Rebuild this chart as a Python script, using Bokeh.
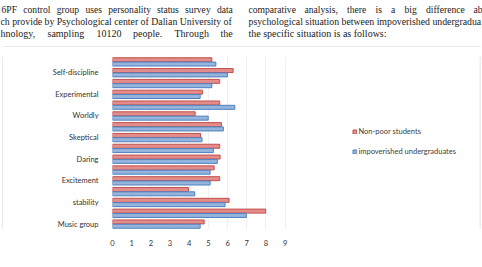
from bokeh.plotting import figure
from bokeh.layouts import column, row
from bokeh.models import Range1d, FixedTicker, Legend, LegendItem, ColumnDataSource
from bokeh.core.properties import value
from bokeh.embed import file_html
from bokeh.resources import INLINE

# 16PF factors, bottom to top; only every other factor carries a label
factor_labels = ["Music group", "", "stability", "", "Excitement", "", "Daring", "",
                 "Skeptical", "", "Worldly", "", "Experimental", "", "Self-discipline", ""]
non_poor = [4.78, 7.99, 6.08, 3.96, 5.59, 5.30, 5.61, 5.59,
            4.59, 5.68, 4.31, 5.59, 4.69, 5.59, 6.29, 5.18]
impoverished = [4.57, 6.98, 5.87, 4.29, 5.09, 5.09, 5.47, 5.26,
                4.67, 5.78, 4.99, 6.38, 4.57, 5.18, 6.00, 5.39]
x_ticks = [0, 1, 2, 3, 4, 5, 6, 7, 8, 9]

W, H = 482, 267
BORDER = "#D9D9D9"


def blank(w, h):
    """A bare figure whose frame fills the canvas, in pixel coordinates (y down)."""
    f = figure(width=w, height=h, output_backend="svg", toolbar_location=None,
               x_range=Range1d(0, w), y_range=Range1d(h, 0),
               x_axis_location=None, y_axis_location=None,
               min_border=0, min_border_left=0, min_border_right=0,
               min_border_top=0, min_border_bottom=0)
    f.outline_line_color = None
    f.grid.visible = False
    f.background_fill_color = "white"
    f.border_fill_color = "white"
    return f


# ---- paragraph text above the chart (justified lines set word by word),
#      plus the top edge of the chart box
text_h = 47
txt = blank(W, text_h)
paragraph = [
    # (font size, line centre, [(word, left x), ...])
    ("9.6px", 9, [("6PF", 1), ("control", 22.8), ("group", 56.2), ("uses", 84.9),
                  ("personality", 107.8), ("status", 156.5), ("survey", 184.6), ("data", 216.4),
                  ("comparative", 248), ("analysis,", 304), ("there", 346.5), ("is", 375),
                  ("a", 390.5), ("big", 404), ("difference", 425.5), ("ab", 473)]),
    ("9.8px", 20.5, [("ch provide by Psychological center of Dalian University of", 0),
                     ("psychological situation between impoverished undergradua", 248)]),
    ("10px", 32.5, [("hnology,", 0), ("sampling", 47), ("10120", 96), ("people.", 132.5),
                    ("Through", 174), ("the", 220),
                    ("the specific situation is as follows:", 248)]),
]
for size, ly, words in paragraph:
    txt.text(x=[w[1] for w in words], y=[ly] * len(words), text=[w[0] for w in words],
             text_font=value("Liberation Serif"), text_font_size=size,
             text_color="#222222", text_baseline="middle", text_align="left")
txt.segment(x0=[2], y0=[46.5], x1=[480], y1=[46.5], line_color=BORDER, line_width=1)

# ---- the chart itself
chart_w, chart_h = 476, 215
left, right, top, bottom = 109, 0, 9, 33
unit = (284.3 - 111.7) / 9.0
x_end = (chart_w - left - right) / unit

idx = list(range(len(factor_labels)))
src = ColumnDataSource(dict(
    y_red=[i + 0.2 for i in idx],
    y_blue=[i - 0.2 for i in idx],
    non_poor=non_poor,
    impoverished=impoverished,
))

p = figure(width=chart_w, height=chart_h, output_backend="svg", toolbar_location=None,
           x_range=Range1d(0, x_end), y_range=Range1d(-0.5, len(idx) - 0.5),
           min_border_left=left, min_border_right=right,
           min_border_top=top, min_border_bottom=bottom)
p.outline_line_color = None
p.background_fill_color = "white"
p.border_fill_color = "white"

r_red = p.hbar(y="y_red", right="non_poor", left=0, height=0.37, source=src,
               fill_color="#E48C8A", line_color="#C0504D", line_width=1)
r_blue = p.hbar(y="y_blue", right="impoverished", left=0, height=0.37, source=src,
                fill_color="#94B4DD", line_color="#4F81BD", line_width=1)

p.xaxis.ticker = FixedTicker(ticks=x_ticks)
p.xaxis.axis_line_color = None
p.xaxis.major_tick_line_color = None
p.xaxis.minor_tick_line_color = None
p.xaxis.major_label_text_font = "Lato"
p.xaxis.major_label_text_font_size = "7.5px"
p.xaxis.major_label_text_color = "#333333"
p.xaxis.major_label_standoff = 4

shown = [i for i, lab in enumerate(factor_labels) if lab]
p.yaxis.ticker = FixedTicker(ticks=shown)
p.yaxis.major_label_overrides = {i: factor_labels[i] for i in shown}
p.yaxis.axis_line_color = None
p.yaxis.major_tick_line_color = None
p.yaxis.minor_tick_line_color = None
p.yaxis.major_label_text_font = "Lato"
p.yaxis.major_label_text_font_size = "7.5px"
p.yaxis.major_label_text_color = "#333333"
p.yaxis.major_label_standoff = 8

p.xgrid.grid_line_color = "#F0F0F0"
p.ygrid.grid_line_color = None

legend = Legend(items=[LegendItem(label="Non-poor students", renderers=[r_red]),
                       LegendItem(label="impoverished undergraduates", renderers=[r_blue])],
                location=(239.5, 72.8), padding=0, margin=0, spacing=11,
                glyph_width=5, glyph_height=5, label_height=9, label_standoff=2,
                border_line_color=None, background_fill_alpha=0,
                label_text_font="Lato", label_text_font_size="7.5px",
                label_text_color="#404040")
p.add_layout(legend)

# ---- side edges and bottom edge of the chart box
side_l = blank(3, chart_h)
side_l.segment(x0=[2.5], y0=[0], x1=[2.5], y1=[chart_h], line_color=BORDER, line_width=1)
side_r = blank(3, chart_h)
side_r.segment(x0=[0.5], y0=[0], x1=[0.5], y1=[chart_h], line_color=BORDER, line_width=1)

foot_h = H - text_h - chart_h
foot = blank(W, foot_h)
foot.segment(x0=[2], y0=[0.5], x1=[480], y1=[0.5], line_color=BORDER, line_width=1)

page = column(txt, row(side_l, p, side_r, spacing=0), foot, spacing=0)

open("out.html", "w").write(file_html(page, INLINE))
